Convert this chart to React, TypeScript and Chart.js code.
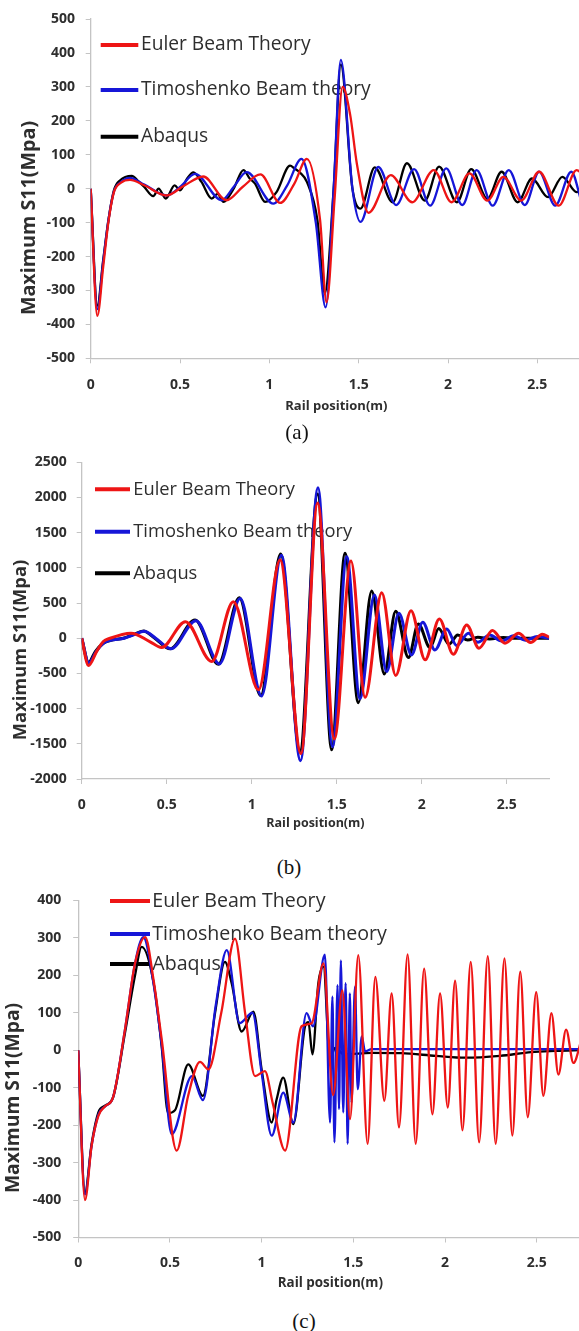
import React, { useEffect, useRef } from "react";
import { Chart, registerables } from "chart.js";

Chart.register(...registerables);

// ---------- shared labels / ticks ----------
const SERIES_LABELS = ["Euler Beam Theory", "Timoshenko Beam theory", "Abaqus"];
const X_TITLE = "Rail position(m)";
const Y_TITLE = "Maximum S11(Mpa)";
const X_TICKS = [0, 0.5, 1, 1.5, 2, 2.5];
const A_Y_TICKS = [-500, -400, -300, -200, -100, 0, 100, 200, 300, 400, 500];
const B_Y_TICKS = [-2000, -1500, -1000, -500, 0, 500, 1000, 1500, 2000, 2500];
const C_Y_TICKS = [-500, -400, -300, -200, -100, 0, 100, 200, 300, 400];

// ---------- panel (a) ----------
const AX_EULER = [0, 0.037, 0.07, 0.1, 0.13, 0.17, 0.22, 0.3, 0.425, 0.52, 0.63, 0.76, 0.85, 0.95, 1.06, 1.14, 1.21, 1.284, 1.32, 1.365, 1.41, 1.452, 1.49, 1.555, 1.68, 1.8, 1.92, 2.02, 2.12, 2.22, 2.31, 2.41, 2.51, 2.62, 2.72, 2.75];
const AY_EULER = [0, -375, -230, -95, -10, 18, 26, 10, -20, 8, 36, -34, 5, 42, -42, 15, 88, -93, -335, -30, 300, 219, 73, -71, 40, -40, 55, -40, 45, -35, 35, -35, 50, -50, 55, 45];
const AX_TIMO = [0, 0.037, 0.07, 0.1, 0.13, 0.17, 0.22, 0.3, 0.425, 0.5, 0.584, 0.733, 0.8, 0.873, 1.022, 1.1, 1.18, 1.26, 1.315, 1.36, 1.4, 1.465, 1.51, 1.61, 1.71, 1.81, 1.9, 1.99, 2.08, 2.16, 2.25, 2.34, 2.43, 2.51, 2.6, 2.69, 2.75];
const AY_TIMO = [0, -355, -215, -90, -8, 20, 32, 12, -20, 5, 44, -34, 5, 49, -44, 10, 88, -100, -350, 0, 380, 0, -98, 64, -48, 58, -50, 60, -48, 55, -50, 55, -48, 50, -50, 50, -45];
const AX_ABQ = [0, 0.037, 0.07, 0.1, 0.13, 0.165, 0.23, 0.27, 0.3, 0.35, 0.38, 0.42, 0.47, 0.5, 0.54, 0.575, 0.62, 0.677, 0.71, 0.743, 0.8, 0.855, 0.89, 0.92, 0.976, 1.04, 1.116, 1.14, 1.17, 1.21, 1.269, 1.31, 1.36, 1.4, 1.465, 1.51, 1.59, 1.69, 1.77, 1.87, 1.95, 2.05, 2.13, 2.22, 2.3, 2.39, 2.47, 2.56, 2.64, 2.72, 2.75];
const AY_ABQ = [0, -345, -210, -90, -5, 25, 38, 20, 5, -22, 0, -29, 10, -5, 30, 48, 20, -29, -15, -39, 0, 55, 30, 15, -39, -10, 68, 60, 48, 20, -93, -309, 0, 366, 0, -59, 63, -40, 75, -35, 65, -40, 58, -30, 50, -40, 30, -25, 35, -10, -5];

// ---------- panel (b) ----------
const BX_EULER = [0, 0.04, 0.088, 0.127, 0.167, 0.29, 0.4, 0.47, 0.61, 0.765, 0.892, 1.04, 1.167, 1.29, 1.388, 1.486, 1.584, 1.667, 1.765, 1.847, 1.937, 2.02, 2.104, 2.186, 2.265, 2.337, 2.416, 2.49, 2.57, 2.64, 2.71, 2.75];
const BY_EULER = [0, -388, -189, -47, 0, 72, -47, -132, 236, -331, 520, -733, 1111, -1640, 1920, -1430, 1097, -840, 645, -530, 390, -307, 274, -227, 189, -142, 109, -71, 70, -60, 57, 15];
const BX_TIMO = [0, 0.042, 0.085, 0.13, 0.17, 0.25, 0.305, 0.368, 0.435, 0.525, 0.672, 0.81, 0.932, 1.058, 1.175, 1.287, 1.39, 1.475, 1.559, 1.637, 1.722, 1.794, 1.866, 1.94, 2.006, 2.078, 2.147, 2.206, 2.275, 2.33, 2.4, 2.47, 2.54, 2.61, 2.68, 2.75];
const BY_TIMO = [0, -350, -190, -70, -30, 0, 47, 100, 0, -150, 250, -365, 565, -820, 1180, -1740, 2140, -1540, 1159, -860, 615, -473, 355, -237, 227, -166, 132, -104, 71, -57, 45, -40, 35, -30, 25, 0];
const BX_ABQ = [0, 0.04, 0.08, 0.127, 0.167, 0.245, 0.3, 0.363, 0.43, 0.52, 0.667, 0.804, 0.927, 1.053, 1.17, 1.284, 1.388, 1.47, 1.549, 1.627, 1.706, 1.78, 1.847, 1.922, 1.98, 2.049, 2.1, 2.161, 2.212, 2.27, 2.33, 2.4, 2.48, 2.56, 2.75];
const BY_ABQ = [0, -345, -189, -71, -33, 0, 47, 104, 0, -151, 260, -369, 577, -814, 1197, -1600, 2050, -1586, 1206, -915, 670, -507, 385, -274, 203, -132, 137, -85, 47, -25, 15, -10, 10, 0, 0];

// ---------- panel (c) ----------
const CX_EULER = [0, 0.037, 0.073, 0.11, 0.146, 0.19, 0.255, 0.31, 0.365, 0.41, 0.455, 0.537, 0.6, 0.664, 0.71, 0.78, 0.855, 0.91, 0.964, 1.018, 1.06, 1.128, 1.218, 1.273, 1.337, 1.39, 1.44, 1.482, 1.527, 1.578, 1.62, 1.669, 1.709, 1.749, 1.796, 1.84, 1.886, 1.931, 1.973, 2.015, 2.055, 2.095, 2.14, 2.186, 2.233, 2.276, 2.324, 2.367, 2.41, 2.451, 2.497, 2.536, 2.58, 2.618, 2.66, 2.7, 2.745];
const CY_EULER = [0, -400, -255, -175, -150, -126, 55, 232, 302, 190, 30, -268, -120, -31, -51, 100, 298, 99, -69, -56, -140, -268, 64, 72, 232, -120, 160, -184, 254, -250, 196, -135, 152, -206, 256, -250, 218, -171, 152, -153, 186, -214, 236, -246, 251, -250, 245, -228, 210, -179, 155, -122, 99, -65, 55, -34, 30];
const CX_TIMO = [0, 0.037, 0.073, 0.11, 0.146, 0.19, 0.255, 0.31, 0.355, 0.41, 0.455, 0.51, 0.62, 0.68, 0.75, 0.81, 0.88, 0.95, 1.0, 1.055, 1.118, 1.173, 1.245, 1.28, 1.345, 1.373, 1.386, 1.397, 1.414, 1.422, 1.432, 1.445, 1.458, 1.469, 1.481, 1.49, 1.509, 1.524, 1.546, 1.564, 1.6, 2.75];
const CY_TIMO = [0, -385, -255, -172, -150, -126, 55, 232, 302, 180, 15, -224, -69, -133, 120, 267, 72, 100, -60, -228, -113, -193, 99, 64, 255, -193, 143, -246, 174, -157, 240, -166, 179, -250, 152, -140, 170, -104, 37, -3, 3, 3];
const CX_ABQ = [0, 0.037, 0.073, 0.11, 0.146, 0.19, 0.255, 0.31, 0.346, 0.41, 0.455, 0.49, 0.528, 0.6, 0.68, 0.746, 0.8, 0.837, 0.891, 0.955, 1.0, 1.055, 1.082, 1.118, 1.173, 1.237, 1.255, 1.277, 1.309, 1.337, 1.373, 1.4, 1.45, 1.6, 1.76, 1.95, 2.11, 2.3, 2.47, 2.6, 2.75];
const CY_ABQ = [0, -380, -250, -166, -148, -126, 46, 200, 276, 183, 10, -168, -160, -38, -122, 99, 236, 178, 50, 103, -51, -193, -131, -73, -197, 64, 75, -11, 178, 223, -25, 6, -11, -7, -8, -15, -20, -15, -5, -2, 0];

// ---------- styling ----------
const FONT = "'Open Sans', 'DejaVu Sans', sans-serif";
const AXIS_COLOR = "#c4c4c4";
const TEXT_COLOR = "#2e2e2e";
const COLORS = ["#ee1515", "#1616d8", "#000000"];

type Spec = {
  top: number; canvasW: number; canvasH: number;
  chartLeft: number; chartTop: number; chartRight: number; chartBottom: number;
  xTitleCenter: number; xTitleSize: number; xTickPad: number; yTickPad: number;
  yMin: number; yMax: number; yTicks: number[];
  xs: number[][]; ys: number[][];
  lineWidth: number;
  legendX0: number; legendX1: number; legendTextX: number; legendY: number[];
  legendFontSize: number; legendLineWidth: number;
  yTitleX: number; yTitleY: number; yTitleSize: number;
};

const SPECS: Spec[] = [
  {
    top: 0, canvasW: 600, canvasH: 420,
    chartLeft: 90.7, chartTop: 16.3, chartRight: 582, chartBottom: 358.3,
    xTitleCenter: 406.7, xTitleSize: 13, xTickPad: 13.3, yTickPad: 10.7,
    yMin: -500, yMax: 500, yTicks: A_Y_TICKS,
    xs: [AX_EULER, AX_TIMO, AX_ABQ], ys: [AY_EULER, AY_TIMO, AY_ABQ],
    lineWidth: 2.3,
    legendX0: 100.7, legendX1: 138.3, legendTextX: 141, legendY: [45, 90, 136.7],
    legendFontSize: 19.2, legendLineWidth: 4,
    yTitleX: 29.5, yTitleY: 218, yTitleSize: 19.7,
  },
  {
    top: 440, canvasW: 600, canvasH: 400,
    chartLeft: 81.7, chartTop: 22.3, chartRight: 549.2, chartBottom: 339,
    xTitleCenter: 383.3, xTitleSize: 12.5, xTickPad: 12.6, yTickPad: 10,
    yMin: -2000, yMax: 2500, yTicks: B_Y_TICKS,
    xs: [BX_EULER, BX_TIMO, BX_ABQ], ys: [BY_EULER, BY_TIMO, BY_ABQ],
    lineWidth: 3,
    legendX0: 95, legendX1: 130, legendTextX: 133.3, legendY: [49.3, 91.7, 133.3],
    legendFontSize: 18.3, legendLineWidth: 4,
    yTitleX: 21, yTitleY: 210, yTitleSize: 18.3,
  },
  {
    top: 880, canvasW: 600, canvasH: 420,
    chartLeft: 78.2, chartTop: 18.3, chartRight: 582.6, chartBottom: 357.5,
    xTitleCenter: 403.3, xTitleSize: 13.4, xTickPad: 12.4, yTickPad: 12,
    yMin: -500, yMax: 400, yTicks: C_Y_TICKS,
    xs: [CX_EULER, CX_TIMO, CX_ABQ], ys: [CY_EULER, CY_TIMO, CY_ABQ],
    lineWidth: 2.3,
    legendX0: 110, legendX1: 150, legendTextX: 152.3, legendY: [21, 54, 84],
    legendFontSize: 19.6, legendLineWidth: 4,
    yTitleX: 14, yTitleY: 218, yTitleSize: 19.3,
  },
];

const CAPTIONS = [
  { text: "(a)", x: 297, y: 432 },
  { text: "(b)", x: 289, y: 867 },
  { text: "(c)", x: 304, y: 1321 },
];

const panelTextPlugin = {
  id: "panelText",
  beforeDatasetsDraw(chart: any, _args: any, opts: any) {
    const ctx = chart.ctx;
    ctx.save();
    chart.data.datasets.forEach((ds: any, i: number) => {
      const y = opts.legendY[i];
      ctx.beginPath();
      ctx.strokeStyle = ds.borderColor;
      ctx.lineWidth = opts.legendLineWidth;
      ctx.lineCap = "butt";
      ctx.moveTo(opts.legendX0, y);
      ctx.lineTo(opts.legendX1, y);
      ctx.stroke();
      ctx.fillStyle = TEXT_COLOR;
      ctx.font = `${opts.legendFontSize}px ${FONT}`;
      ctx.textAlign = "left";
      ctx.textBaseline = "middle";
      ctx.fillText(ds.label, opts.legendTextX, y);
    });
    ctx.translate(opts.yTitleX, opts.yTitleY);
    ctx.rotate(-Math.PI / 2);
    ctx.font = `bold ${opts.yTitleSize}px ${FONT}`;
    ctx.fillStyle = TEXT_COLOR;
    ctx.textAlign = "center";
    ctx.textBaseline = "middle";
    ctx.fillText(Y_TITLE, 0, 0);
    ctx.restore();
  },
};

function Panel({ spec }: { spec: Spec }) {
  const ref = useRef<HTMLCanvasElement | null>(null);
  useEffect(() => {
    if (!ref.current) return;
    const xAxisH = spec.xTitleCenter - spec.chartBottom + (spec.xTitleSize * 1.2) / 2;
    const padBottom = spec.canvasH - spec.chartBottom - xAxisH;
    const datasets = SERIES_LABELS.map((label, i) => ({
      label,
      data: spec.xs[i].map((x, j) => ({ x, y: spec.ys[i][j] })),
      borderColor: COLORS[i],
      backgroundColor: COLORS[i],
      borderWidth: spec.lineWidth,
      pointRadius: 0,
      fill: false,
      cubicInterpolationMode: "monotone" as const,
    }));
    const tickFont = { family: FONT, size: 14, weight: "bold" as const };
    const chart = new Chart(ref.current, {
      type: "line",
      data: { datasets },
      options: {
        responsive: false,
        maintainAspectRatio: false,
        animation: false,
        devicePixelRatio: 1,
        layout: {
          padding: {
            left: 0,
            top: spec.chartTop,
            right: spec.canvasW - spec.chartRight,
            bottom: padBottom,
          },
        },
        plugins: {
          legend: { display: false },
          tooltip: { enabled: false },
          panelText: {
            legendX0: spec.legendX0,
            legendX1: spec.legendX1,
            legendTextX: spec.legendTextX,
            legendY: spec.legendY,
            legendFontSize: spec.legendFontSize,
            legendLineWidth: spec.legendLineWidth,
            yTitleX: spec.yTitleX,
            yTitleY: spec.yTitleY,
            yTitleSize: spec.yTitleSize,
          },
        } as any,
        scales: {
          x: {
            type: "linear",
            min: 0,
            max: 2.75,
            afterBuildTicks: (axis: any) => {
              axis.ticks = X_TICKS.map((v) => ({ value: v }));
            },
            afterFit: (axis: any) => {
              axis.height = xAxisH;
            },
            ticks: {
              font: tickFont,
              color: TEXT_COLOR,
              padding: spec.xTickPad,
              maxRotation: 0,
              autoSkip: false,
              callback: (v: any) => String(v),
            },
            grid: { drawOnChartArea: false, drawTicks: true, tickLength: 5, color: AXIS_COLOR, lineWidth: 1 },
            border: { display: true, color: AXIS_COLOR, width: 1.3 },
            title: {
              display: true,
              text: X_TITLE,
              color: TEXT_COLOR,
              font: { family: FONT, size: spec.xTitleSize, weight: "bold" },
              padding: { top: 0, bottom: 0 },
            },
          },
          y: {
            type: "linear",
            min: spec.yMin,
            max: spec.yMax,
            afterBuildTicks: (axis: any) => {
              axis.ticks = spec.yTicks.map((v) => ({ value: v }));
            },
            afterFit: (axis: any) => {
              axis.width = spec.chartLeft;
            },
            ticks: {
              font: tickFont,
              color: TEXT_COLOR,
              padding: spec.yTickPad,
              autoSkip: false,
              callback: (v: any) => String(v),
            },
            grid: { drawOnChartArea: false, drawTicks: true, tickLength: 5, color: AXIS_COLOR, lineWidth: 1 },
            border: { display: true, color: AXIS_COLOR, width: 1.3 },
          },
        },
      },
      plugins: [panelTextPlugin],
    } as any);
    return () => chart.destroy();
  }, [spec]);
  return (
    <canvas
      ref={ref}
      width={spec.canvasW}
      height={spec.canvasH}
      style={{ position: "absolute", left: 0, top: spec.top, width: spec.canvasW, height: spec.canvasH }}
    />
  );
}

export default function App() {
  return (
    <div
      style={{
        position: "absolute",
        left: 0,
        top: 0,
        width: 579,
        height: 1331,
        overflow: "hidden",
        background: "#ffffff",
      }}
    >
      {SPECS.map((s, i) => (
        <Panel key={i} spec={s} />
      ))}
      {CAPTIONS.map((c) => (
        <div
          key={c.text}
          style={{
            position: "absolute",
            left: c.x,
            top: c.y,
            transform: "translate(-50%, -50%)",
            fontFamily: "'Liberation Serif', 'DejaVu Serif', serif",
            fontSize: 21,
            lineHeight: 1,
            color: "#111",
            whiteSpace: "nowrap",
          }}
        >
          {c.text}
        </div>
      ))}
    </div>
  );
}
